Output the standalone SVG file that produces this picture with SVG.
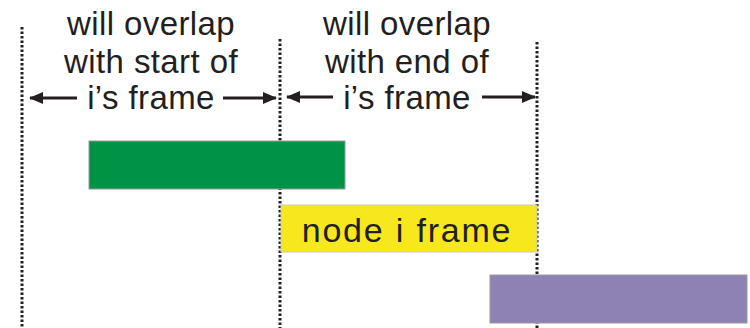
<svg xmlns="http://www.w3.org/2000/svg" width="750" height="328" viewBox="0 0 750 328">
<defs>
<style>
.t{font-family:"Liberation Sans",Arial,sans-serif;font-size:33px;letter-spacing:0.4px;fill:#231f20;text-anchor:middle}
.d{stroke:#231f20;stroke-width:3;stroke-dasharray:2.5 2;fill:none}
.a{stroke:#231f20;stroke-width:3;fill:none;marker-end:url(#ah)}
</style>
<marker id="ah" viewBox="0 0 14 12" refX="13" refY="6" markerWidth="14" markerHeight="12" markerUnits="userSpaceOnUse" orient="auto">
<path d="M0,0 L14,6 L0,12 z" fill="#231f20"/>
</marker>
</defs>
<rect width="750" height="328" fill="#fff"/>
<g id="guides">
<line class="d" x1="22" y1="27" x2="22" y2="328"/>
<line class="d" x1="280" y1="39" x2="280" y2="328"/>
<line class="d" x1="537" y1="42" x2="537" y2="328"/>
</g>
<g id="green"><rect x="89" y="141" width="256" height="48" fill="#009245" stroke="#9a9a9a" stroke-width="1"/></g>
<g id="yellow"><rect x="281" y="205" width="256" height="47" fill="#f7e81e" stroke="#c8c8c8" stroke-width="1"/>
<text class="t" x="407" y="242" style="font-size:34px;letter-spacing:1.8px">node i frame</text></g>
<g id="purple"><rect x="490" y="275" width="257" height="48" fill="#8e82b5" stroke="#9a9a9a" stroke-width="1"/></g>
<g id="label-start">
<text class="t" x="151" y="35">will overlap</text>
<text class="t" x="151" y="73">with start of</text>
<text class="t" x="151" y="109">i’s frame</text>
</g>
<g id="label-end">
<text class="t" x="407" y="35">will overlap</text>
<text class="t" x="407" y="73">with end of</text>
<text class="t" x="407" y="109">i’s frame</text>
</g>
<g id="connectors">
<line class="a" x1="77" y1="98" x2="30" y2="98"/>
<line class="a" x1="223" y1="98" x2="276" y2="98"/>
<line class="a" x1="333" y1="97" x2="287" y2="97"/>
<line class="a" x1="482" y1="97" x2="535" y2="97"/>
</g>
</svg>
